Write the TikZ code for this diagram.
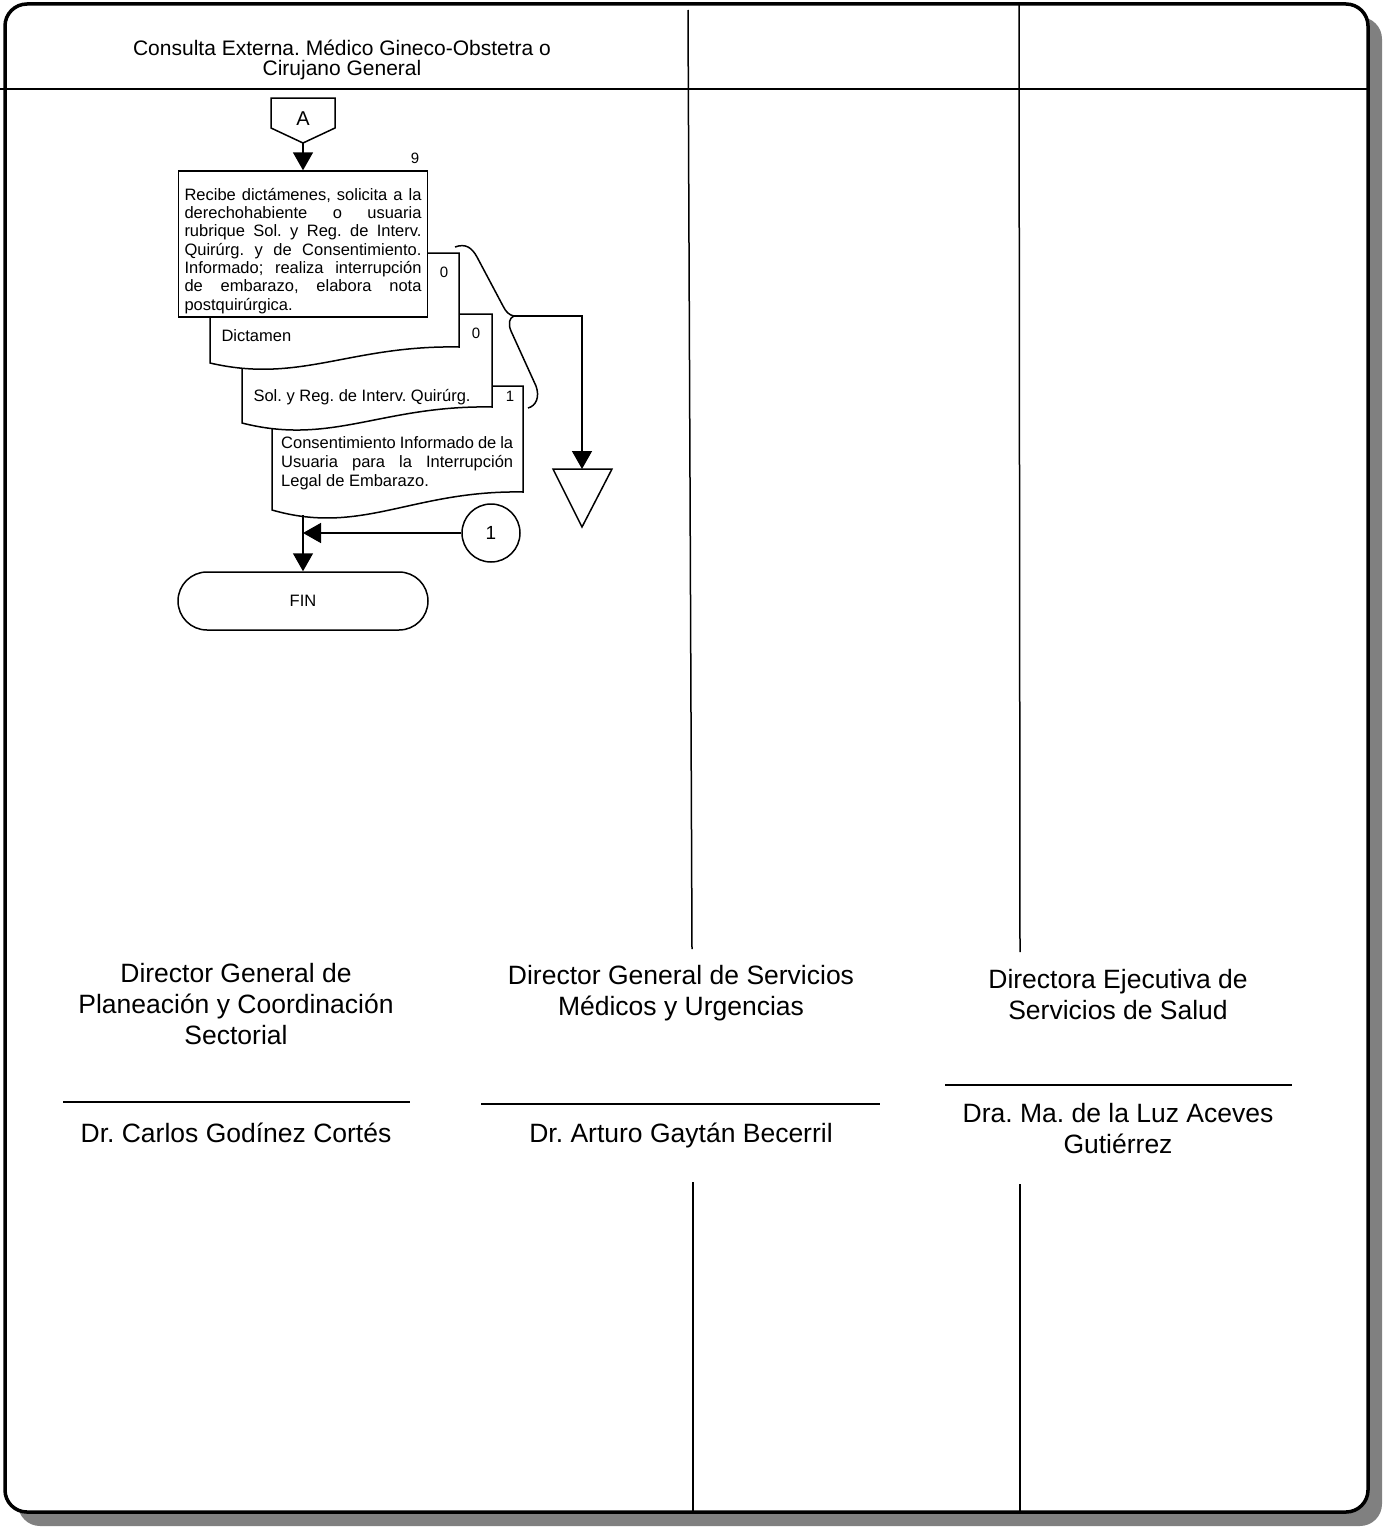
\documentclass[tikz,border=0pt]{standalone}
\usepackage{fontspec}
\setmainfont{Liberation Sans}
\usetikzlibrary{arrows.meta}
\hbadness=10000
\frenchspacing

\begin{document}
\begin{tikzpicture}[x=1pt,y=-1pt,
  every node/.style={font=\fontsize{16.5}{18.3}\selectfont},
  flow/.style={line width=1.5pt,-{Triangle[length=18pt,width=20pt]}},
  proc/.style={draw,line width=1.5pt,fill=white,text width=237pt,inner xsep=6pt,minimum height=144pt,align=justify},
  docbox/.style={draw,line width=1.5pt,fill=white},
  docnum/.style={font=\fontsize{15}{15}\selectfont},
  term/.style={draw,line width=1.5pt,rounded corners=29pt,minimum width=250pt,minimum height=58pt},
  signtext/.style={align=center,font=\fontsize{26.5}{31}\selectfont},
  sigrule/.style={line width=1.5pt},
  lane/.style={line width=1.5pt}]
  \useasboundingbox (0,0) rectangle (1383,1528);
  % frame with shadow
  \fill[black!50,rounded corners=22pt] (18,17) rectangle (1382,1526);
  \draw[line width=3.5pt,fill=white,rounded corners=22pt] (5,4) rectangle (1368,1512);
  \draw[line width=2pt] (0,89) -- (1367,89);
  \node[align=center,font=\fontsize{21}{20}\selectfont] (lane1) at (342,60) {Consulta Externa. Médico Gineco-Obstetra o\\Cirujano General};
  \draw[lane] (688,10) -- (692,949);
  \draw[lane] (693,1182) -- (693,1512);
  \draw[lane] (1019,4) -- (1020,952);
  \draw[lane] (1020,1184) -- (1020,1512);

  % documents, back to front
  \draw[docbox] (272,386) -- (523,386) -- (523,492) .. controls (412,490) and (362,536) .. (272,510) -- cycle;
  \draw[docbox] (242,314) -- (492,314) -- (492,407) .. controls (382,405) and (332,446) .. (242,423) -- cycle;
  \draw[docbox] (210,253) -- (459,253) -- (459,347) .. controls (350,345) and (300,384) .. (210,363) -- cycle;
  \node[anchor=west] (dictamen) at (218,336) {Dictamen};
  \node[anchor=west] (solreg) at (250,397) {Sol. y Reg. de Interv. Quirúrg.};
  \node[anchor=north west,inner sep=0pt,text width=232pt,align=justify,font=\fontsize{16.5}{19}\selectfont] (consent) at (281,436) {Consentimiento Informado de la\linebreak Usuaria para la Interrupción\linebreak Legal de Embarazo.};
  \node[docnum] (n0a) at (444,272) {0};
  \node[docnum] (n0b) at (476,333) {0};
  \node[docnum] (n1) at (510,396) {1};

  % activity 9
  \node[proc] (p9) at (303,244) {\rule{0pt}{26pt}Recibe dictámenes, solicita a la\linebreak derechohabiente o usuaria\linebreak rubrique Sol. y Reg. de Interv.\linebreak Quirúrg. y de Consentimiento.\linebreak Informado; realiza interrupción\linebreak de embarazo, elabora nota\linebreak postquirúrgica.};
  \node[docnum] (n9) at (415,158) {9};

  % connector A
  \node[inner sep=0pt,font=\fontsize{20}{20}\selectfont] (A) at (303,119) {A};
  \draw[line width=1.5pt] ([xshift=-32pt,yshift=21pt]A.center) -- ([xshift=32pt,yshift=21pt]A.center)
    -- ([xshift=32pt,yshift=-9pt]A.center) -- ([yshift=-24pt]A.center) -- ([xshift=-32pt,yshift=-9pt]A.center) -- cycle;
  \coordinate (Atip) at ([yshift=-24pt]A.center);
  \draw[flow] (Atip) -- (p9.north);

  % brace to archive
  \draw[line width=1.5pt] (455,247) .. controls (466,243) and (472,248) .. (477,257) -- (503,306)
    .. controls (506,312) and (509,315) .. (514,316)
    .. controls (509,318) and (508,324) .. (511,331) -- (536,386)
    .. controls (540,397) and (536,406) .. (528,408);
  \coordinate (brace) at (514,316);
  \coordinate (archtop) at (582,469);
  \draw[line width=1.5pt] (553,469) -- (612,469) -- (582,527) -- cycle;
  \draw[flow] (brace) -| (archtop);

  % end
  \node[draw,circle,line width=1.5pt,minimum size=58pt,inner sep=0pt,font=\fontsize{19}{19}\selectfont] (c1) at (491,533) {1};
  \node[term] (fin) at (303,601) {FIN};
  \coordinate (d3out) at (303,515);
  \coordinate (join) at (303,533);
  \draw[flow] (d3out) -- (fin);
  \draw[flow] (c1) -- (join);

  % signatures
  \node[signtext] (dir1) at (236,1004) {Director General de\\Planeación y Coordinación\\Sectorial};
  \node[signtext] (dir2) at (681,993) {Director General de Servicios\\Médicos y Urgencias};
  \node[signtext] (dir3) at (1118,995) {Directora Ejecutiva de\\Servicios de Salud};
  \draw[sigrule] (63,1102) -- (410,1102);
  \draw[sigrule] (481,1104) -- (880,1104);
  \draw[sigrule] (945,1085) -- (1292,1085);
  \node[signtext] (name1) at (236,1133) {Dr. Carlos Godínez Cortés};
  \node[signtext] (name2) at (681,1135) {Dr. Arturo Gaytán Becerril};
  \node[signtext] (name3) at (1118,1129) {Dra. Ma. de la Luz Aceves\\Gutiérrez};
\end{tikzpicture}
\end{document}
